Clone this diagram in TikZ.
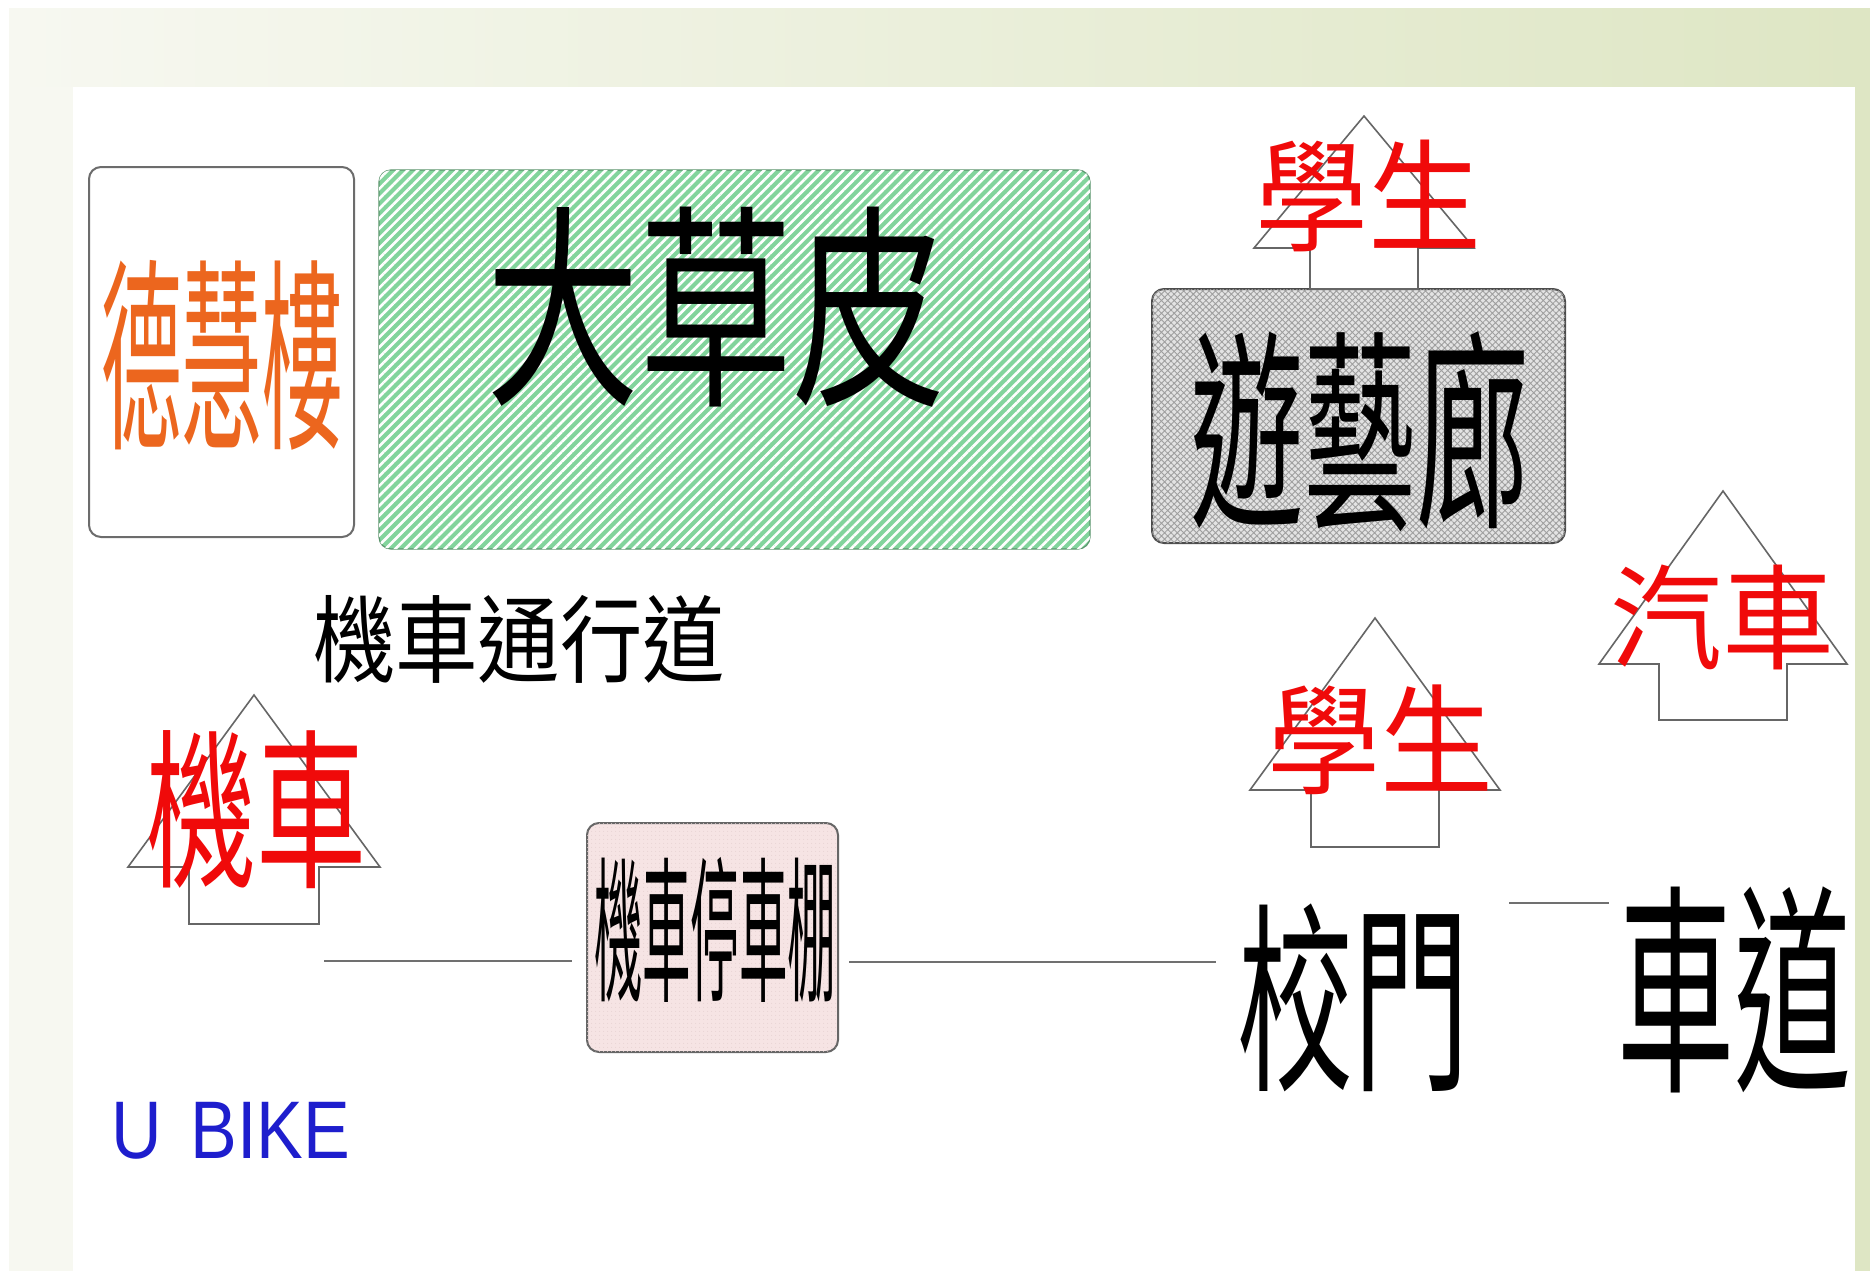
\documentclass[tikz,border=0pt]{standalone}
\usepackage{fontspec}
\usepackage{graphicx}
\newfontfamily\cjk{Noto Sans CJK TC}
\setsansfont{Liberation Sans}
\usetikzlibrary{patterns.meta}
\definecolor{framel}{RGB}{247,248,241}
\definecolor{framer}{RGB}{222,230,196}
\definecolor{orangetxt}{RGB}{236,102,30}
\definecolor{redtxt}{RGB}{240,10,10}
\definecolor{bluetxt}{RGB}{30,30,205}
\definecolor{grassgreen}{RGB}{130,212,156}
\definecolor{pinkfill}{RGB}{246,228,228}
\definecolor{linegray}{RGB}{112,112,112}
\newcommand\blockup[6]{%
  \draw[arrowline] (#1,#2) -- ({#1+#4},#3) -- ({#1+#5},#3) -- ({#1+#5},#6)
    -- ({#1-#5},#6) -- ({#1-#5},#3) -- ({#1-#4},#3) -- cycle;}
\begin{document}
\begin{tikzpicture}[x=1pt,y=-1pt,
  arrowline/.style={draw=gray!80!black, line width=1.6pt, fill=white, line join=miter},
  boxbase/.style={inner sep=0pt, outer sep=0pt, rounded corners=12pt, line width=2pt},
  txt/.style={inner sep=0pt, outer sep=0pt},
  conn/.style={draw=linegray, line width=2pt}]
\useasboundingbox (0,0) rectangle (1870,1271);
% frame
\fill[white] (0,0) rectangle (1870,1271);
\shade[left color=framel, right color=framer] (9,9) rectangle (1870,87);
\fill[framel] (9,87) rectangle (73,1271);
\fill[framer] (1855,87) rectangle (1870,1271);
% boxes
\node[boxbase, draw=gray!85!black, fill=white, minimum width=265pt, minimum height=370pt] (dhlbox) at (221.5,352) {};
\node[boxbase, draw=grassgreen!70!black, line width=1.2pt, fill=grassgreen,
  postaction={pattern={Lines[angle=45,distance=7pt,line width=2.6pt]}, pattern color=white},
  minimum width=711pt, minimum height=379pt] (grassbox) at (734.5,359.5) {};
\node[boxbase, draw=gray!60!black, fill=gray!22,
  postaction={pattern={Hatch[angle=45,distance=4.5pt,line width=0.9pt]}, pattern color=gray!75},
  minimum width=413pt, minimum height=254pt] (ywlbox) at (1358.5,416) {};
\node[boxbase, draw=gray!80!black, fill=pinkfill,
  postaction={pattern={Dots[distance=4pt,radius=0.6pt]}, pattern color=pink!60!gray!50},
  minimum width=251pt, minimum height=229pt] (pkbox) at (712.5,937.5) {};
% block arrows
\blockup{1364}{116}{248}{110}{54}{289}
\blockup{1723}{491}{664}{124}{64}{720}
\blockup{1375}{618}{790}{125}{64}{847}
\blockup{254}{695}{867}{126}{65}{924}
% texts
\node[txt, text=orangetxt] (dhl) at (222,355) {\resizebox*{242pt}{190pt}{\cjk 德慧樓}};
\node[txt, text=black] (grass) at (716,307) {\resizebox*{460pt}{200pt}{\cjk 大草皮}};
\node[txt, text=black] (ywl) at (1360,432) {\resizebox*{340pt}{200pt}{\cjk 遊藝廊}};
\node[txt, text=redtxt] (stu1) at (1368,196) {\resizebox*{226pt}{112pt}{\cjk 學生}};
\node[txt, text=redtxt] (car) at (1722,617) {\resizebox*{224pt}{105pt}{\cjk 汽車}};
\node[txt, text=redtxt] (stu2) at (1380,740) {\resizebox*{226pt}{110pt}{\cjk 學生}};
\node[txt, text=redtxt] (moto) at (256,810) {\resizebox*{220pt}{158pt}{\cjk 機車}};
\node[txt, text=black] (lane) at (519,639) {\resizebox*{412pt}{88pt}{\cjk 機車通行道}};
\node[txt, text=black] (park) at (715,930) {\resizebox*{242pt}{145pt}{\cjk 機車停車棚}};
\node[txt, text=black] (gate) at (1353,998) {\resizebox*{232pt}{188pt}{\cjk 校門}};
\node[txt, text=black] (road) at (1734,990) {\resizebox*{234pt}{206pt}{\cjk 車道}};
\node[txt, text=bluetxt] (ubike) at (231,1131) {\resizebox*{238pt}{57pt}{\sffamily U\hspace{0.12em} BIKE}};
% connectors
\coordinate (lstart) at (324,961);
\coordinate (lmid) at (0,962);
\coordinate (lhigh) at (0,903);
\draw[conn, shorten >=15pt] (lstart) -- (pkbox.west |- lstart);
\draw[conn, shorten <=11pt, shorten >=21pt] (pkbox.east |- lmid) -- (gate.west |- lmid);
\draw[conn, shorten <=40pt, shorten >=8pt] (gate.east |- lhigh) -- (road.west |- lhigh);
\end{tikzpicture}
\end{document}
